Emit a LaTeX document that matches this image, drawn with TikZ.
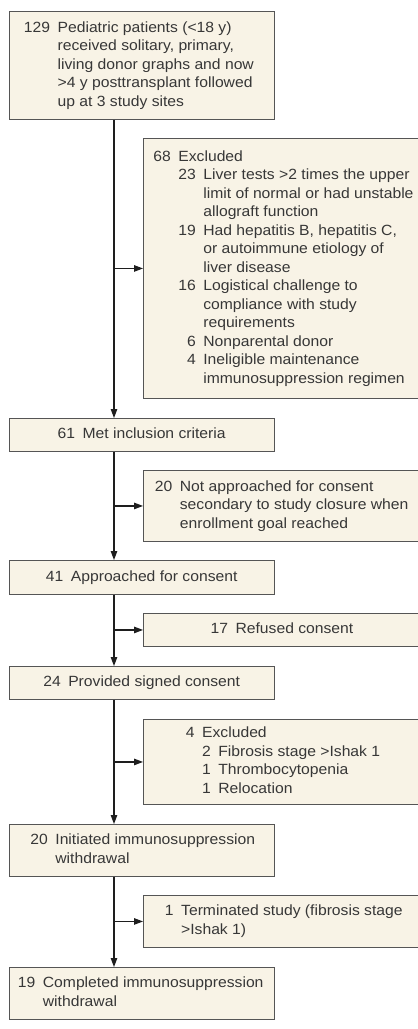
\documentclass[tikz,border=0pt]{standalone}
\usepackage{fontspec}
\setmainfont[FakeStretch=1.06]{Liberation Sans}
\usetikzlibrary{arrows.meta}
\definecolor{boxfill}{RGB}{248,243,230}
\definecolor{boxline}{RGB}{85,85,85}
\definecolor{txtc}{RGB}{55,55,55}
\definecolor{connc}{RGB}{30,30,30}
\newcommand{\lbox}[2]{\makebox[#1pt][l]{#2}}
\newcommand{\ntab}[1]{\begin{tabular}{@{}r@{\hspace{7.5pt}}l@{}}#1\end{tabular}}
\newcommand{\nntab}[1]{\begin{tabular}{@{}r@{\hspace{7.5pt}}r@{\hspace{7.5pt}}l@{}}#1\end{tabular}}
\newcommand{\spanrow}[1]{\multicolumn{2}{@{}l@{}}{#1}}
\tikzset{
  fbox/.style={draw=boxline, fill=boxfill, line width=0.9pt, inner ysep=0pt,
    text=txtc, anchor=north west, font=\fontsize{14.8}{18.5}\selectfont},
  mainbox/.style={fbox, minimum width=265.5pt},
  sidebox/.style={fbox, minimum width=277pt},
  conn/.style={draw=connc, line width=1.1pt, -{Triangle[length=9pt,width=6.5pt]}}
}
\begin{document}
\begin{tikzpicture}[x=1pt,y=-1pt]
\fill[white] (0,0) rectangle (418,1029);
\useasboundingbox (0,0) rectangle (418,1029);
\coordinate (sp) at (114,0);

\node[mainbox, minimum height=108, inner xsep=15pt] (A) at (8.5,11)
  {\lbox{235.5}{\ntab{129 & Pediatric patients (<18 y)\\
   & received solitary, primary,\\
   & living donor graphs and now\\
   & >4 y posttransplant followed\\
   & up at 3 study sites}}};

\node[sidebox, minimum height=260, inner xsep=10pt] (B) at (143,138)
  {\lbox{257}{\nntab{68 & \spanrow{Excluded}\\
   & 23 & Liver tests >2 times the upper\\
   & & limit of normal or had unstable\\
   & & allograft function\\
   & 19 & Had hepatitis B, hepatitis C,\\
   & & or autoimmune etiology of\\
   & & liver disease\\
   & 16 & Logistical challenge to\\
   & & compliance with study\\
   & & requirements\\
   & 6 & Nonparental donor\\
   & 4 & Ineligible maintenance\\
   & & immunosuppression regimen}}};

\node[mainbox, minimum height=33] (C) at (8.5,418)
  {\strut 61\hspace{7.5pt}Met inclusion criteria};

\node[sidebox, minimum height=71, inner xsep=11.5pt] (D) at (143,470)
  {\lbox{254}{\ntab{20 & Not approached for consent\\
   & secondary to study closure when\\
   & enrollment goal reached}}};

\node[mainbox, minimum height=34] (E) at (8.5,560)
  {\strut 41\hspace{7.5pt}Approached for consent};

\node[sidebox, minimum height=33] (F) at (143,613)
  {\strut 17\hspace{7.5pt}Refused consent};

\node[mainbox, minimum height=33] (G) at (8.5,666)
  {\strut 24\hspace{7.5pt}Provided signed consent};

\node[sidebox, minimum height=85, inner xsep=42.5pt] (H) at (143,719)
  {\lbox{192}{\nntab{4 & \spanrow{Excluded}\\
   & 2 & Fibrosis stage >Ishak 1\\
   & 1 & Thrombocytopenia\\
   & 1 & Relocation}}};

\node[mainbox, minimum height=52, inner xsep=21.5pt] (I) at (8.5,824)
  {\lbox{222.5}{\ntab{20 & Initiated immunosuppression\\
   & withdrawal}}};

\node[sidebox, minimum height=52, inner xsep=21.5pt] (J) at (143,895)
  {\lbox{234}{\ntab{1 & Terminated study (fibrosis stage\\
   & >Ishak 1)}}};

\node[mainbox, minimum height=52, inner xsep=9pt] (K) at (8.5,967)
  {\lbox{247.5}{\ntab{19 & Completed immunosuppression\\
   & withdrawal}}};

\draw[conn] (A.south -| sp) -- (C.north -| sp);
\draw[conn] (C.south -| sp) -- (E.north -| sp);
\draw[conn] (E.south -| sp) -- (G.north -| sp);
\draw[conn] (G.south -| sp) -- (I.north -| sp);
\draw[conn] (I.south -| sp) -- (K.north -| sp);

\draw[conn] (B.west -| sp) -- (B.west);
\draw[conn] (D.west -| sp) -- (D.west);
\draw[conn] (F.west -| sp) -- (F.west);
\draw[conn] (H.west -| sp) -- (H.west);
\draw[conn] (J.west -| sp) -- (J.west);
\end{tikzpicture}
\end{document}
